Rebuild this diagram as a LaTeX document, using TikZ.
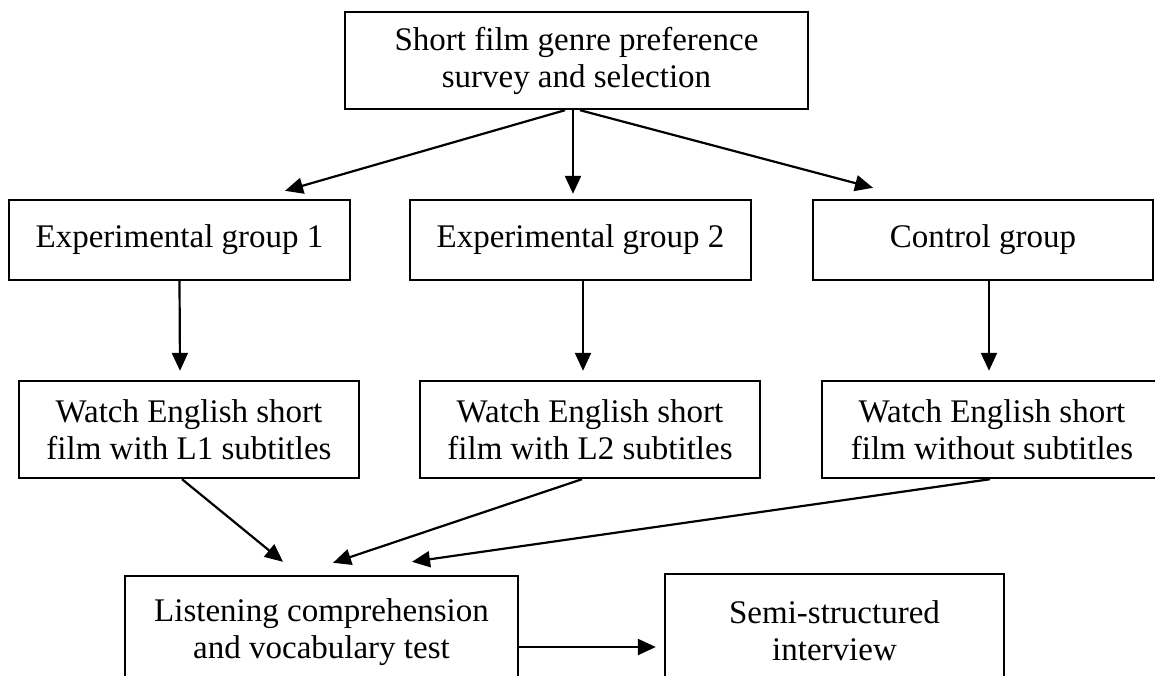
\documentclass[tikz,border=0pt]{standalone}
\usepackage{fontspec}
\setmainfont{Liberation Serif}
\usepackage{tikz}
\usetikzlibrary{arrows.meta}
\tikzset{blk/.style={rectangle,draw,line width=1.2pt,align=center,inner sep=0pt,font=\fontsize{16.5}{18.5}\selectfont}}

\begin{document}
\begin{tikzpicture}[x=0.5pt,y=-0.5pt,>={Triangle[length=9pt,width=8pt]},line width=1.1pt]
    \useasboundingbox (0,0) rectangle (1155,675);

    \node[blk,minimum width=231.5pt,minimum height=48.5pt] (survey) at (576.5,60.5) {Short film genre preference\\survey and selection};

    \node[blk,minimum width=170.5pt,minimum height=40pt] (eg1) at (179.5,240) {Experimental group 1};
    \node[blk,minimum width=170.5pt,minimum height=40pt] (eg2) at (580.5,240) {Experimental group 2};
    \node[blk,minimum width=170pt,minimum height=40pt] (cg) at (983,240) {Control group};

    \node[blk,minimum width=170pt,minimum height=48.5pt] (w1) at (189,429.5) {Watch English short\\film with L1 subtitles};
    \node[blk,minimum width=170pt,minimum height=48.5pt] (w2) at (590,429.5) {Watch English short\\film with L2 subtitles};
    \node[blk,minimum width=170pt,minimum height=48.5pt] (w3) at (992,429.5) {Watch English short\\film without subtitles};

    % bottom row runs past the lower edge
    \node[blk,minimum width=196.5pt,minimum height=56pt] (test) at (321.5,632) {Listening comprehension\\and vocabulary test};
    \node[blk,minimum width=169.5pt,minimum height=57pt] (semi) at (834.5,631) {Semi-structured\\interview};

    \draw [->] ([xshift=-5.75pt]survey.south) to ([xshift=52.75pt,yshift=4pt]eg1.north);
    \draw [->] ([xshift=-1.75pt]survey.south) to ([xshift=-3.75pt,yshift=2.5pt]eg2.north);
    \draw [->] ([xshift=1.75pt]survey.south) to ([xshift=-55pt,yshift=5.5pt]cg.north);

    \draw [->] (eg1.south) to ([xshift=-4.5pt,yshift=4.5pt]w1.north);
    \draw [->] ([xshift=1.25pt]eg2.south) to ([xshift=-3.5pt,yshift=4.5pt]w2.north);
    \draw [->] ([xshift=3pt]cg.south) to ([xshift=-1.5pt,yshift=4.5pt]w3.north);

    \draw [->] ([xshift=-3.5pt]w1.south) to ([xshift=-19.25pt,yshift=6.5pt]test.north);
    \draw [->] ([xshift=-4pt]w2.south) to ([xshift=5.75pt,yshift=6pt]test.north);
    \draw [->] ([xshift=-1pt]w3.south) to ([xshift=45.25pt,yshift=6.5pt]test.north);

    \draw [->] ([yshift=-7.5pt]test.east) to ([xshift=-4pt,yshift=-8pt]semi.west);
\end{tikzpicture}
\end{document}
